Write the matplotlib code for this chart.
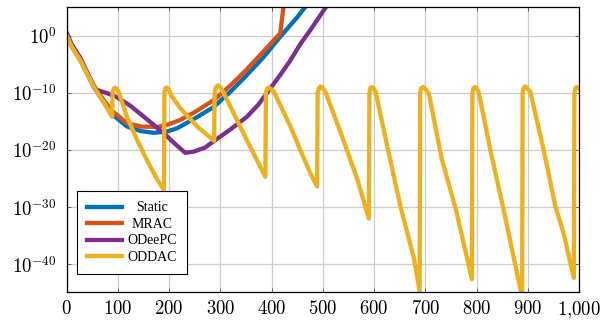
import matplotlib
matplotlib.use('Agg')
import matplotlib.pyplot as plt
import numpy as np

# values, given as (step, log10 of the value)
static_x = [0, 10, 27, 53, 75, 92, 118, 145, 170, 195, 216, 250, 287, 320, 352, 385, 417, 450, 470]
static_e = [0.1, -1.9, -4.3, -8.9, -12.0, -14.0, -15.9, -16.7, -17.0, -16.8, -16.2, -14.5, -12.5, -9.8, -6.9, -3.7, -0.2, 3.2, 5.5]

mrac_x = [0, 10, 27, 53, 75, 92, 118, 145, 177, 200, 222, 250, 287, 320, 352, 385, 417, 424]
mrac_e = [0.1, -1.8, -4.2, -8.7, -11.6, -13.4, -15.3, -15.9, -16.0, -15.5, -14.75, -13.4, -11.3, -8.7, -5.9, -2.7, 0.4, 5.5]

odeepc_x = [0, 10, 27, 56, 80, 99, 125, 151, 170, 190, 210, 229, 232, 248, 270, 287, 320, 352, 375, 398, 420, 437, 456, 476, 510]
odeepc_e = [0.6, -1.5, -3.9, -9.4, -10.1, -10.8, -12.3, -14.2, -15.6, -17.1, -18.8, -20.3, -20.5, -20.3, -19.6, -18.5,
            -16.4, -14.2, -12.0, -9.2, -6.5, -4.3, -1.5, 1.0, 5.5]

oddac_x = [0, 10, 27, 53, 75, 89,
           90, 92, 95, 98, 102, 118, 138, 157, 177, 190,
           191, 193, 196, 199, 206, 222, 255, 288,
           289, 292, 296, 300, 307, 330, 352, 370, 388,
           389, 391, 394, 397, 404, 437, 456, 476, 489,
           490, 493, 496, 499, 505, 535, 567, 590,
           591, 593, 596, 599, 603, 626, 652, 678, 689,
           690, 692, 696, 699, 707, 732, 760, 791,
           792, 794, 797, 800, 804, 827, 853, 886, 889,
           890, 892, 895, 898, 905, 931, 954, 970, 990,
           991, 993, 996, 1000]
oddac_e = [0.1, -1.9, -4.3, -8.9, -12.0, -14.2,
           -10.0, -9.3, -9.1, -9.3, -9.9, -14.2, -18.3, -21.8, -25.2, -27.0,
           -10.0, -9.2, -9.1, -9.4, -10.7, -12.7, -15.9, -18.4,
           -10.0, -9.0, -8.7, -9.0, -10.1, -14.3, -18.3, -21.5, -24.7,
           -10.0, -9.3, -9.1, -9.2, -9.7, -15.9, -20.0, -24.1, -26.4,
           -10.0, -9.1, -8.9, -9.1, -9.8, -17.0, -25.0, -32.0,
           -10.0, -9.2, -9.0, -9.2, -9.8, -19.4, -30.0, -39.0, -44.6,
           -10.0, -9.2, -9.0, -9.2, -10.1, -21.5, -30.5, -42.6,
           -10.0, -9.2, -9.0, -9.2, -9.8, -20.0, -30.5, -44.5, -46.0,
           -10.0, -9.2, -8.9, -9.2, -9.8, -20.0, -29.9, -34.6, -42.4,
           -10.0, -9.2, -9.0, -9.3]

series = [
    ('Static', static_x, static_e, '#0072BD'),
    ('MRAC', mrac_x, mrac_e, '#D95319'),
    ('ODeePC', odeepc_x, odeepc_e, '#7E2F8E'),
    ('ODDAC', oddac_x, oddac_e, '#EDB120'),
]

xticks = [0, 100, 200, 300, 400, 500, 600, 700, 800, 900, 1000]
xticklabels = ['$0$', '$100$', '$200$', '$300$', '$400$', '$500$', '$600$', '$700$', '$800$', '$900$', '$1{,}000$']
yticks = [1e0, 1e-10, 1e-20, 1e-30, 1e-40]
yticklabels = ['$10^{0}$', '$10^{-10}$', '$10^{-20}$', '$10^{-30}$', '$10^{-40}$']

plt.rcParams['mathtext.fontset'] = 'cm'
plt.rcParams['font.family'] = ['Liberation Serif', 'DejaVu Serif']

fig = plt.figure(figsize=(6.02, 3.2), dpi=100)
ax = fig.add_axes([0.1105, 0.0875, 0.8513, 0.8905])

for name, xs, es, col in series:
    ax.plot(xs, 10.0 ** np.array(es), color=col, linewidth=3.1, label=name)

ax.set_yscale('log')
ax.set_xlim(0, 1000)
ax.set_ylim(10 ** -44.85, 10 ** 5.0)
ax.set_xticks(xticks)
ax.set_xticklabels(xticklabels)
ax.set_yticks(yticks)
ax.set_yticklabels(yticklabels)
ax.minorticks_off()
ax.tick_params(axis='both', direction='in', length=3, width=0.6, color='#555555',
               labelsize=13.5, top=True, right=True)
ax.tick_params(axis='y', pad=7)
ax.tick_params(axis='x', pad=6)
ax.grid(True, color='#cccccc', linewidth=0.9)
ax.set_axisbelow(True)
for s in ax.spines.values():
    s.set_linewidth(0.9)

leg = ax.legend(loc='lower left', bbox_to_anchor=(0.02, 0.062), borderaxespad=0,
                fontsize=10, handlelength=2.5, handletextpad=0.4, borderpad=0.75,
                labelspacing=0.25, fancybox=False, framealpha=1, edgecolor='black')
leg.get_frame().set_linewidth(0.8)

# center the legend labels like the original
fig.canvas.draw()
r = fig.canvas.get_renderer()
texts = leg.get_texts()
widths = [t.get_window_extent(r).width for t in texts]
wmax = max(widths)
for t, w in zip(texts, widths):
    t.set_x(t.get_position()[0] + (wmax - w) / 2)

fig.savefig('out.png', dpi=100)
